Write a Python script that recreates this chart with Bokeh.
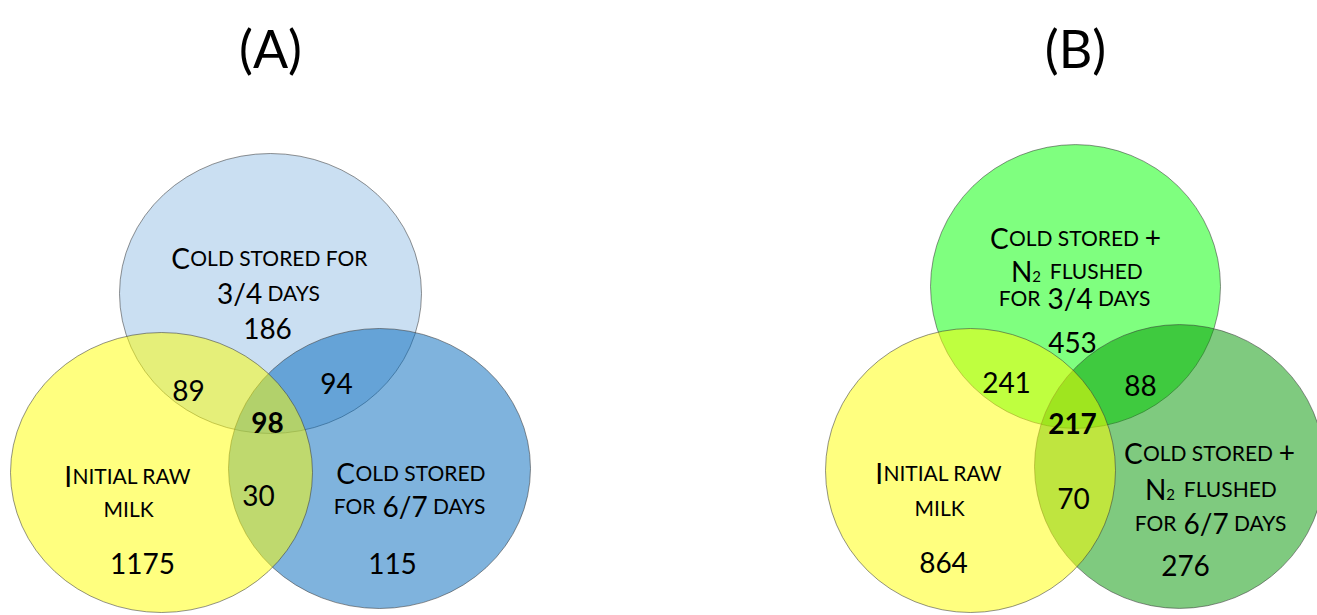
from bokeh.plotting import figure
from bokeh.models import Range1d, ColumnDataSource
from bokeh.core.properties import value
from bokeh.embed import file_html
from bokeh.resources import INLINE

W, H = 1317, 615

# ---------------- data ----------------
panel_titles = ["(A)", "(B)"]
region_names = ["top only", "left only", "right only",
                "top & left", "top & right", "left & right", "all three"]
counts_a = [186, 1175, 115, 89, 94, 30, 98]
counts_b = [453, 864, 276, 241, 88, 70, 217]
set_labels_a = [["Cold stored for", "3/4 days"],
                ["Initial raw", "milk"],
                ["Cold stored", "for 6/7 days"]]
set_labels_b = [["Cold stored +", "N\u2082 flushed", "for 3/4 days"],
                ["Initial raw", "milk"],
                ["Cold stored +", "N\u2082 flushed", "for 6/7 days"]]
set_colors_a = ["#95bfe5", "#ffff00", "#0067bb"]   # top, left, right
set_colors_b = ["#00ff00", "#ffff00", "#009600"]

# ---------------- layout (pixel coords, y downwards) ----------------
circ_a = dict(cx=[270, 161, 379], cy=[293, 472, 468], rx=151, ry=140)
circ_b = dict(cx=[1075, 970, 1179], cy=[286, 470, 466], rx=145, ry=142)
count_pos_a = [(267, 328), (142, 563), (392, 563), (188, 390), (336, 383), (258, 495), (267, 422)]
count_pos_b = [(1072, 342), (943, 562), (1185, 565), (1006, 382), (1140, 385), (1073, 498), (1072, 423)]
label_pos_a = [[(268, 257), (269, 292)], [(127, 475), (128, 508)], [(410, 472), (410, 505)]]
label_pos_b = [[(1075, 237), (1076, 270), (1075, 297)], [(938, 472), (939, 507)],
               [(1209, 452), (1210, 488), (1211, 522)]]
title_pos = [(270, 47), (1075, 47)]

BIG, SMALL, SUB = 28, 21, 15
FONT = "Lato"

EM = {' ': 0.193, '+': 0.58, '/': 0.40, '(': 0.31, ')': 0.31,
      'A': 0.68, 'C': 0.68, 'D': 0.75, 'E': 0.57, 'F': 0.55, 'H': 0.76, 'I': 0.29,
      'K': 0.66, 'L': 0.50, 'M': 0.93, 'N': 0.76, 'O': 0.82, 'R': 0.64, 'S': 0.53,
      'T': 0.58, 'U': 0.73, 'W': 1.02, 'Y': 0.63}
for d in "0123456789":
    EM[d] = 0.58
GAP_EM = 0.32


def tw(s, size):
    return sum(EM.get(c, 0.6) for c in s) * size


def segments(text):
    """small-caps emulation: lowercase -> small upper-case, other -> big"""
    runs = []
    for ch in text:
        if ch == ' ':
            cls = 'space'
        elif ch == '\u2082':
            cls = 'sub'
            ch = '2'
        elif ch.islower():
            cls = 'small'
            ch = ch.upper()
        else:
            cls = 'big'
        if cls == 'small' and runs and runs[-1][1] == 'space' and len(runs) > 1 and runs[-2][1] == 'small':
            sp = runs.pop()
            runs[-1][0] += sp[0] + ch
            continue
        if runs and runs[-1][1] == cls:
            runs[-1][0] += ch
        else:
            runs.append([ch, cls])
    return runs


seg = dict(x=[], y=[], text=[], size=[])


def add_line(text, cx, by):
    runs = segments(text)
    pieces = []
    for t, cls in runs:
        if cls == 'big':
            pieces.append((t, BIG, 0, tw(t, BIG)))
        elif cls == 'small':
            pieces.append((t, SMALL, 0, tw(t, SMALL)))
        elif cls == 'sub':
            pieces.append((t, SUB, 6, tw(t, SUB) + 2))
        else:
            pieces.append((None, SMALL, 0, GAP_EM * SMALL * len(t)))
    total = sum(p[3] for p in pieces)
    x = cx - total / 2.0
    for t, size, dy, w in pieces:
        if t is not None:
            seg["x"].append(x)
            seg["y"].append(H - (by + dy))
            seg["text"].append(t)
            seg["size"].append(f"{size}px")
        x += w


p = figure(width=W, height=H, x_range=Range1d(0, W), y_range=Range1d(0, H),
           x_axis_type=None, y_axis_type=None, toolbar_location=None,
           output_backend="svg", min_border=0, outline_line_color=None,
           background_fill_color="white", border_fill_color="white")
p.grid.visible = False

for circ, colors in ((circ_a, set_colors_a), (circ_b, set_colors_b)):
    for i in (0, 2, 1):   # top, right, left (yellow drawn last)
        p.ellipse(x=[circ["cx"][i]], y=[H - circ["cy"][i]],
                  width=2 * circ["rx"], height=2 * circ["ry"],
                  fill_color=colors[i], fill_alpha=0.5,
                  line_color="#3a3a3a", line_alpha=0.55, line_width=1)

for labels, positions in ((set_labels_a, label_pos_a), (set_labels_b, label_pos_b)):
    for lines, poss in zip(labels, positions):
        for line, (cx, by) in zip(lines, poss):
            add_line(line, cx, by)

p.text(x="x", y="y", text="text", source=ColumnDataSource(seg),
       text_font=value(FONT), text_font_size="size", text_align="left",
       text_baseline="alphabetic", text_color="#000000")

cnt = dict(x=[], y=[], text=[], style=[])
for counts, positions in ((counts_a, count_pos_a), (counts_b, count_pos_b)):
    for k, (c, (cx, by)) in enumerate(zip(counts, positions)):
        cnt["x"].append(cx)
        cnt["y"].append(H - by)
        cnt["text"].append(str(c))
        cnt["style"].append("bold" if region_names[k] == "all three" else "normal")

p.text(x="x", y="y", text="text", source=ColumnDataSource(cnt),
       text_font=value(FONT), text_font_size=f"{BIG}px", text_font_style="style",
       text_align="center", text_baseline="alphabetic", text_color="#000000")

p.text(x=[t[0] for t in title_pos], y=[H - t[1] for t in title_pos], text=panel_titles,
       text_font=value(FONT), text_font_size="52px", text_align="center",
       text_baseline="middle", text_color="#000000")

open("out.html", "w").write(file_html(p, INLINE))
